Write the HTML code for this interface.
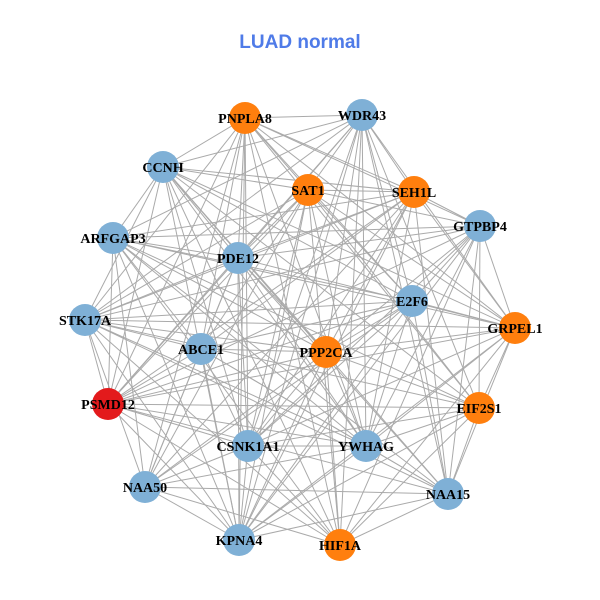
<!DOCTYPE html>
<html><head><meta charset="utf-8"><style>
html,body{margin:0;padding:0;background:#fff;width:600px;height:600px;overflow:hidden}
</style></head><body>
<svg id="s" width="600" height="600" xmlns="http://www.w3.org/2000/svg">
<rect width="600" height="600" fill="#fff"/>
<text x="300" y="48" text-anchor="middle" font-family="Liberation Sans, sans-serif" font-weight="bold" font-size="19" fill="#4f7be8">LUAD normal</text>
<g id="e" stroke="#aaaaaa" stroke-width="1"></g>
<g id="n"></g>
</svg>
<script>
var N=[["PNPLA8",245,118,"o"],["WDR43",362,115,"b"],["CCNH",163,167,"b"],["SAT1",308,190,"o"],["SEH1L",414,192,"o"],["GTPBP4",480,226,"b"],["ARFGAP3",113,238,"b"],["PDE12",238,258,"b"],["E2F6",412,301,"b"],["STK17A",85,320,"b"],["GRPEL1",515,328,"o"],["ABCE1",201,349,"b"],["PPP2CA",326,352,"o"],["PSMD12",108,404,"r"],["EIF2S1",479,408,"o"],["CSNK1A1",248,446,"b"],["YWHAG",366,446,"b"],["NAA50",145,487,"b"],["NAA15",448,494,"b"],["KPNA4",239,540,"b"],["HIF1A",340,545,"o"]];
var C={o:"#ff7f0e",b:"#7fb0d6",r:"#e31a1c"};
var ns="http://www.w3.org/2000/svg",e=document.getElementById("e"),g=document.getElementById("n");
var k=0;
for(var i=0;i<N.length;i++)for(var j=i+1;j<N.length;j++){k++;if(k%6==0)continue;
var l=document.createElementNS(ns,"line");l.setAttribute("x1",N[i][1]);l.setAttribute("y1",N[i][2]);l.setAttribute("x2",N[j][1]);l.setAttribute("y2",N[j][2]);e.appendChild(l);}
N.forEach(function(d){var c=document.createElementNS(ns,"circle");c.setAttribute("cx",d[1]);c.setAttribute("cy",d[2]);c.setAttribute("r",16);c.setAttribute("fill",C[d[3]]);g.appendChild(c);});
N.forEach(function(d){var t=document.createElementNS(ns,"text");t.setAttribute("x",d[1]);t.setAttribute("y",d[2]+5);t.setAttribute("text-anchor","middle");t.setAttribute("font-family","Liberation Serif, serif");t.setAttribute("font-weight","bold");t.setAttribute("font-size","14");t.setAttribute("fill","#000");t.textContent=d[0];g.appendChild(t);});
</script>
</body></html>
